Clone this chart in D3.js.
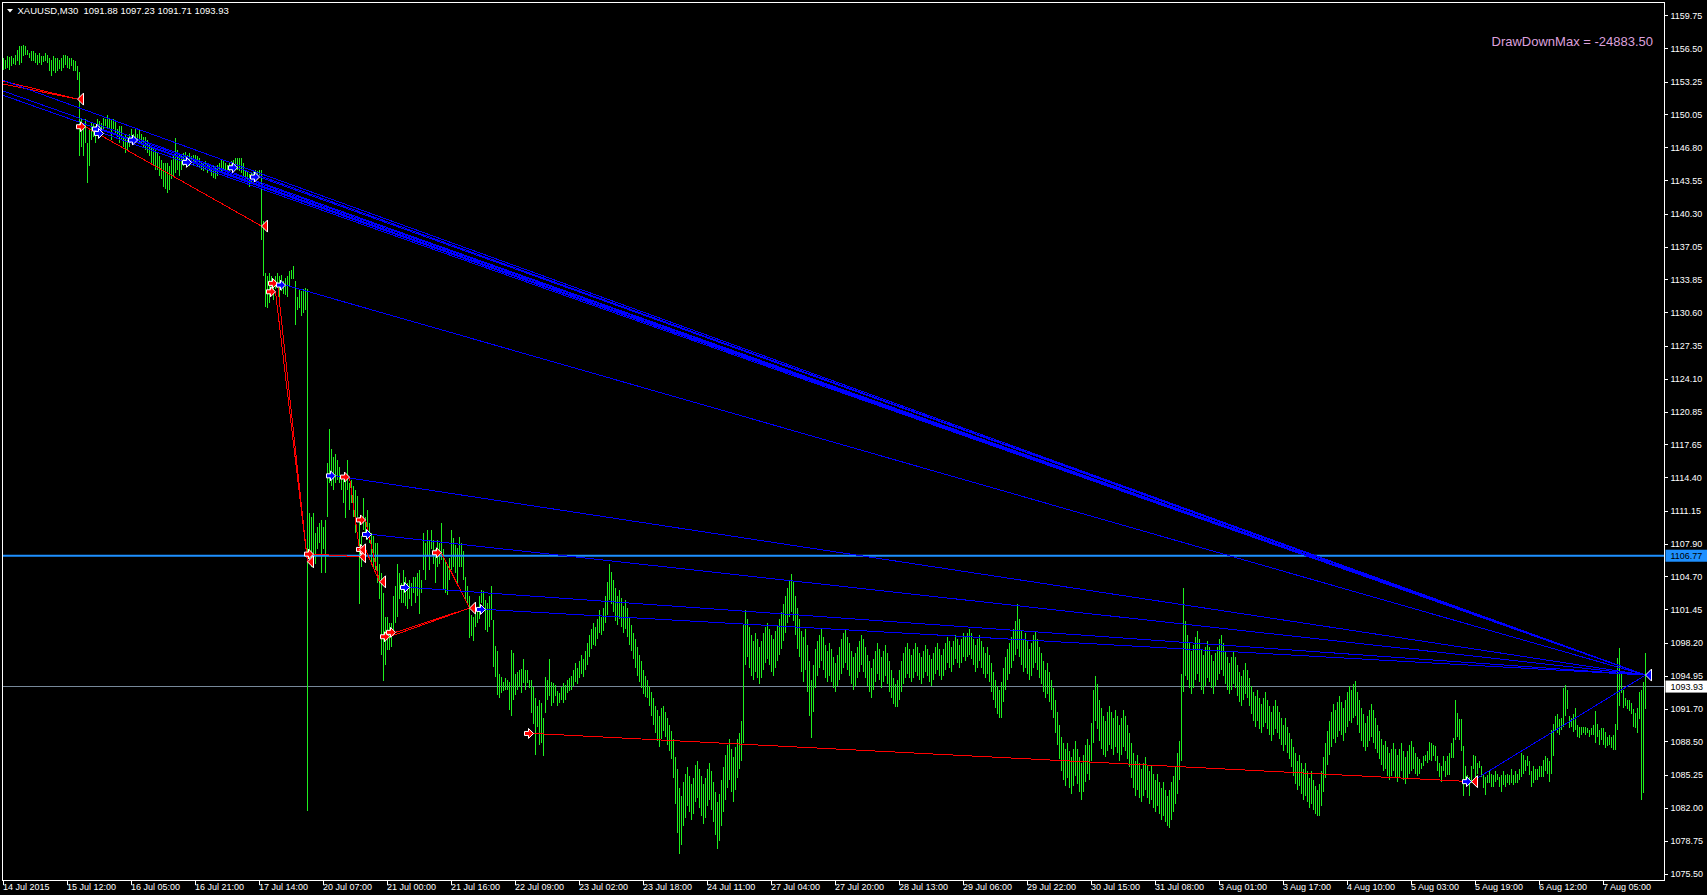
<!DOCTYPE html>
<html><head><meta charset="utf-8">
<script src="https://cdn.jsdelivr.net/npm/d3@7"></script>
<style>html,body{margin:0;padding:0;background:#000;overflow:hidden}svg{display:block}</style>
</head><body><svg id="c" width="1707" height="895"></svg>
<script>
const chartTitle = "XAUUSD,M30  1091.88 1097.23 1091.71 1093.93";
const drawDownText = "DrawDownMax = -24883.50";
const timeLabels = ["14 Jul 2015","15 Jul 12:00","16 Jul 05:00","16 Jul 21:00","17 Jul 14:00","20 Jul 07:00","21 Jul 00:00","21 Jul 16:00","22 Jul 09:00","23 Jul 02:00","23 Jul 18:00","24 Jul 11:00","27 Jul 04:00","27 Jul 20:00","28 Jul 13:00","29 Jul 06:00","29 Jul 22:00","30 Jul 15:00","31 Jul 08:00","3 Aug 01:00","3 Aug 17:00","4 Aug 10:00","5 Aug 03:00","5 Aug 19:00","6 Aug 12:00","7 Aug 05:00"];
const barsPerLabel = 32;
const priceTicks = [1159.75,1156.50,1153.25,1150.05,1146.80,1143.55,1140.30,1137.05,1133.85,1130.60,1127.35,1124.10,1120.85,1117.65,1114.40,1111.15,1107.90,1104.70,1101.45,1098.20,1094.95,1091.70,1088.50,1085.25,1082.00,1078.75,1075.50];
const hLinePrice = 1106.77;
const bidPrice = 1093.93;

const barHigh = [
1155.6,1155.4,1155.8,1155.7,1155.8,1155.6,1155.9,1156.4,1156.8,1156.8,
1156.9,1156.8,1156.4,1156.1,1156.3,1156.3,1156.1,1155.9,1156.1,1155.8,
1155.8,1156.1,1155.9,1155.6,1155.4,1155.8,1155.6,1155.6,1155.4,1155.6,
1155.9,1155.9,1155.8,1155.6,1155.6,1155.4,1155.3,1154.8,1154.2,1149.6,
1149.2,1149.6,1147.3,1148.6,1149.2,1149.2,1148.9,1149.6,1149.4,1149.2,
1149.7,1149.6,1150.0,1149.7,1149.6,1149.6,1149.4,1148.6,1148.9,1148.9,
1147.9,1148.2,1147.9,1148.2,1148.6,1148.2,1148.6,1148.2,1148.6,1148.2,
1147.9,1147.9,1147.6,1147.3,1146.9,1146.9,1146.6,1146.3,1146.0,1145.6,
1145.3,1145.3,1145.3,1145.0,1145.6,1146.0,1147.8,1146.6,1146.3,1146.0,
1146.3,1146.4,1146.1,1146.3,1146.0,1146.1,1146.1,1146.0,1145.8,1145.5,
1145.3,1145.5,1145.1,1145.0,1144.8,1145.1,1145.0,1145.1,1145.3,1145.6,
1145.5,1145.3,1145.1,1145.3,1145.5,1145.6,1145.8,1145.8,1145.8,1145.8,
1145.3,1144.6,1144.5,1144.2,1144.3,1144.6,1144.6,1144.5,1144.6,1144.6,
1139.6,1134.5,1134.2,1134.5,1134.2,1133.9,1134.2,1134.5,1134.2,1134.3,
1133.7,1134.0,1134.2,1134.7,1134.8,1135.2,1133.7,1132.2,1132.9,1132.7,
1132.9,1133.0,1132.9,1111.0,1110.6,1111.0,1109.0,1109.6,1110.0,1110.3,
1109.6,1110.3,1115.9,1119.2,1117.2,1116.5,1116.8,1116.2,1115.5,1114.6,
1114.2,1114.6,1116.2,1113.9,1114.2,1113.6,1113.2,1112.6,1110.6,1108.7,
1112.4,1110.6,1111.3,1110.0,1109.0,1108.7,1108.0,1108.0,1106.0,1105.1,
1103.1,1100.8,1100.8,1100.2,1100.2,1102.8,1103.8,1106.0,1105.1,1104.1,
1105.4,1104.7,1104.1,1104.4,1104.1,1104.7,1104.7,1105.1,1105.4,1104.4,
1109.0,1108.0,1109.3,1108.3,1109.3,1108.3,1107.4,1108.3,1108.0,1110.0,
1107.4,1106.4,1106.0,1106.5,1109.3,1108.5,1107.8,1107.5,1108.6,1108.0,
1107.2,1104.7,1103.8,1102.8,1101.0,1100.8,1101.8,1101.5,1102.8,1103.4,
1103.3,1102.4,1102.1,1102.8,1103.8,1100.5,1097.9,1097.4,1095.2,1094.9,
1094.4,1094.8,1094.6,1094.4,1097.5,1097.2,1095.2,1095.4,1095.6,1095.7,
1096.6,1095.6,1095.6,1094.6,1094.6,1093.9,1092.8,1092.0,1092.6,1092.3,
1090.8,1094.9,1094.6,1096.6,1094.4,1094.3,1094.1,1093.5,1093.3,1093.9,
1094.3,1094.1,1094.6,1094.8,1095.0,1095.6,1096.2,1095.8,1096.4,1097.0,
1096.6,1097.4,1098.2,1099.0,1099.6,1100.2,1099.8,1100.6,1101.4,1100.8,
1101.6,1102.8,1104.2,1106.0,1105.2,1104.4,1103.6,1102.8,1103.4,1102.6,
1101.8,1102.4,1101.6,1100.8,1100.0,1099.2,1098.6,1097.8,1097.0,1096.4,
1095.6,1095.0,1094.6,1094.0,1093.4,1092.8,1092.0,1091.6,1091.0,1091.8,
1092.0,1091.4,1090.8,1090.2,1089.6,1088.8,1087.0,1085.8,1084.0,1083.2,
1084.6,1085.4,1086.0,1085.2,1084.4,1085.0,1086.2,1086.6,1085.8,1085.2,
1084.4,1085.0,1085.8,1086.4,1085.6,1084.6,1083.6,1082.6,1083.4,1084.8,
1086.0,1087.2,1088.2,1088.8,1087.8,1087.0,1088.0,1088.8,1089.4,1090.6,
1100.0,1101.4,1100.6,1099.8,1099.0,1098.4,1099.2,1098.6,1097.8,1098.4,
1099.2,1099.8,1100.2,1099.6,1099.0,1098.6,1099.4,1100.0,1100.6,1101.2,
1102.0,1102.8,1103.6,1104.4,1105.0,1104.2,1102.8,1101.6,1100.6,1099.4,
1098.8,1099.6,1098.0,1096.4,1094.6,1096.0,1097.6,1098.4,1099.0,1099.6,
1098.8,1098.0,1097.4,1098.2,1097.6,1096.8,1096.2,1097.0,1097.8,1098.6,
1099.2,1099.6,1098.8,1098.2,1097.4,1096.8,1097.2,1097.8,1098.4,1099.0,
1098.6,1097.8,1097.0,1096.4,1095.8,1096.6,1097.4,1098.2,1097.6,1096.8,
1097.4,1098.0,1097.2,1096.4,1095.6,1094.8,1094.2,1094.6,1095.6,1096.4,
1097.2,1097.8,1098.2,1097.6,1097.0,1097.6,1098.2,1097.8,1097.2,1096.8,
1097.4,1098.0,1097.6,1097.0,1096.6,1097.2,1097.8,1098.2,1097.6,1097.0,
1097.6,1098.2,1098.8,1098.4,1097.8,1098.4,1099.0,1098.6,1098.0,1098.6,
1099.2,1098.8,1099.2,1099.6,1099.2,1098.6,1098.0,1098.6,1099.0,1098.4,
1097.8,1097.2,1097.8,1097.0,1096.2,1095.4,1094.6,1094.0,1093.6,1094.4,
1095.8,1096.8,1097.6,1098.2,1098.8,1099.6,1100.4,1102.0,1100.6,1099.4,
1098.6,1099.2,1098.4,1097.6,1098.2,1099.0,1099.4,1098.6,1097.8,1097.2,
1096.4,1095.6,1096.2,1095.4,1094.6,1093.8,1092.6,1091.4,1090.2,1089.0,
1088.4,1087.8,1088.4,1087.6,1087.0,1087.8,1088.6,1087.8,1087.0,1086.4,
1087.2,1088.2,1088.8,1088.2,1090.4,1093.6,1095.0,1094.2,1092.6,1091.8,
1091.0,1090.6,1091.4,1092.0,1091.4,1090.8,1091.6,1091.0,1090.2,1090.8,
1091.6,1091.0,1090.2,1089.4,1088.4,1087.4,1086.6,1087.2,1086.4,1085.8,
1086.4,1087.0,1086.2,1085.6,1086.2,1085.4,1084.8,1085.4,1084.6,1084.0,
1084.6,1083.8,1083.2,1083.8,1084.6,1085.2,1086.0,1087.4,1088.6,1095.2,
1103.6,1100.4,1099.0,1098.2,1097.4,1098.0,1098.8,1099.4,1098.6,1097.6,
1097.0,1097.8,1098.4,1097.8,1097.0,1096.4,1097.2,1097.8,1098.6,1099.0,
1098.2,1097.4,1096.8,1096.2,1096.8,1097.4,1096.8,1096.0,1095.4,1095.0,
1095.6,1096.2,1095.6,1094.8,1094.0,1093.4,1093.0,1093.6,1092.8,1092.2,
1092.8,1093.4,1092.6,1092.0,1091.4,1092.0,1092.6,1092.0,1091.4,1090.8,
1090.2,1090.8,1090.0,1089.4,1088.8,1088.0,1087.4,1086.6,1087.2,1086.4,
1085.8,1086.4,1085.6,1085.0,1085.6,1084.8,1084.2,1083.8,1084.4,1085.6,
1087.0,1088.4,1089.6,1090.6,1091.4,1092.2,1091.6,1092.4,1093.0,1092.4,
1091.8,1092.6,1093.4,1094.0,1093.6,1094.2,1094.5,1093.4,1092.6,1091.8,
1091.2,1090.4,1091.0,1091.6,1092.2,1091.6,1090.8,1090.2,1089.6,1088.8,
1088.2,1088.6,1088.0,1087.4,1087.8,1088.4,1087.8,1087.2,1087.8,1088.4,
1087.6,1087.0,1087.6,1088.2,1088.6,1088.0,1087.4,1087.0,1086.8,1086.4,
1087.1,1087.2,1087.6,1088.5,1088.4,1088.2,1088.1,1087.1,1086.4,1086.1,
1087.1,1086.6,1087.1,1087.4,1088.4,1088.9,1092.6,1091.3,1090.7,1090.7,
1088.1,1086.1,1085.3,1085.1,1086.1,1087.2,1087.1,1086.4,1086.6,1086.1,
1085.4,1085.1,1085.3,1085.6,1085.4,1085.3,1085.6,1085.4,1085.1,1085.3,
1085.6,1085.3,1085.4,1085.3,1085.8,1085.3,1085.6,1085.4,1085.8,1087.4,
1087.2,1086.7,1087.1,1086.6,1085.6,1086.1,1085.8,1085.8,1086.1,1086.1,
1086.7,1087.1,1086.9,1086.6,1089.7,1090.3,1091.0,1091.2,1090.7,1090.8,
1093.8,1094.1,1093.6,1091.0,1090.8,1091.2,1091.8,1090.2,1090.0,1090.0,
1090.0,1090.0,1089.9,1089.7,1089.9,1090.2,1091.5,1090.3,1089.7,1089.9,
1089.9,1089.5,1089.0,1089.2,1089.0,1089.2,1090.3,1096.7,1097.7,1095.3,
1093.6,1092.8,1092.6,1092.6,1092.3,1091.7,1091.3,1091.8,1093.4,1093.6,
1094.4,1097.23];

const barLow = [
1154.4,1154.5,1154.6,1154.4,1154.8,1155.0,1154.9,1155.3,1154.9,1155.1,
1155.8,1155.9,1155.9,1155.6,1155.3,1155.3,1155.1,1154.9,1155.1,1154.9,
1155.2,1155.3,1155.1,1154.3,1153.8,1154.3,1154.1,1154.3,1154.5,1154.3,
1154.6,1154.9,1154.6,1154.5,1154.8,1154.3,1154.3,1153.5,1146.0,1146.9,
1146.0,1147.3,1143.3,1145.0,1147.6,1147.9,1147.3,1148.6,1148.2,1148.6,
1148.6,1148.9,1148.7,1148.6,1147.6,1148.6,1148.2,1147.9,1147.3,1147.6,
1146.9,1146.3,1146.6,1146.9,1147.6,1147.3,1147.6,1147.3,1147.3,1147.1,
1146.9,1146.6,1146.3,1146.0,1145.3,1145.0,1144.6,1144.6,1144.0,1143.7,
1143.0,1142.8,1142.4,1142.7,1143.7,1144.0,1144.3,1144.6,1144.0,1144.6,
1145.0,1145.3,1145.1,1145.0,1145.3,1145.0,1145.3,1145.0,1144.8,1144.6,
1144.5,1144.6,1144.3,1144.6,1144.0,1143.8,1143.7,1144.0,1144.3,1144.5,
1144.6,1144.3,1144.2,1144.5,1144.6,1144.6,1145.0,1144.6,1144.5,1144.3,
1144.0,1143.7,1143.3,1143.0,1143.3,1143.8,1144.0,1144.0,1144.0,1137.8,
1134.2,1131.2,1131.1,1131.6,1132.5,1131.9,1132.9,1133.2,1132.2,1132.7,
1132.5,1132.4,1132.2,1133.2,1133.9,1133.9,1129.4,1130.9,1131.1,1130.3,
1130.6,1130.9,1081.7,1106.0,1105.7,1105.7,1106.0,1107.4,1108.0,1105.1,
1107.4,1105.1,1110.6,1113.9,1113.6,1113.2,1113.9,1114.2,1113.9,1113.2,
1111.9,1110.5,1113.2,1111.3,1111.9,1110.6,1109.0,1110.6,1102.0,1105.7,
1109.3,1108.7,1108.3,1108.0,1106.0,1105.7,1105.4,1104.1,1102.5,1097.0,
1094.5,1096.0,1097.5,1097.5,1097.8,1099.5,1100.2,1100.8,1102.5,1102.1,
1102.1,1101.8,1101.5,1102.5,1101.8,1103.1,1102.1,1102.8,1101.1,1103.1,
1105.4,1104.4,1106.7,1105.4,1107.4,1106.0,1104.1,1105.7,1106.0,1106.4,
1103.4,1103.1,1102.9,1104.4,1105.4,1105.7,1105.1,1104.1,1105.7,1105.7,
1104.4,1102.4,1102.0,1098.7,1098.9,1098.4,1099.8,1100.2,1100.6,1102.1,
1101.8,1099.5,1099.3,1099.8,1100.5,1095.9,1094.9,1093.1,1092.8,1093.3,
1093.5,1093.6,1093.6,1091.6,1091.0,1092.6,1093.1,1093.6,1093.9,1093.3,
1094.3,1093.6,1094.3,1093.8,1091.3,1090.3,1087.2,1090.0,1088.2,1088.4,
1087.1,1091.3,1092.6,1093.0,1092.0,1092.3,1093.0,1092.0,1092.3,1092.6,
1092.3,1092.6,1093.3,1093.5,1093.6,1094.0,1094.4,1094.2,1094.8,1095.2,
1094.9,1095.6,1096.0,1096.8,1097.6,1098.0,1097.9,1098.6,1099.2,1099.0,
1099.4,1100.2,1101.0,1102.4,1102.0,1101.2,1100.4,1100.0,1100.6,1099.8,
1099.2,1099.6,1098.8,1098.0,1097.4,1096.6,1095.8,1095.0,1094.4,1093.8,
1093.2,1092.9,1092.8,1092.0,1091.0,1090.2,1089.4,1088.6,1088.0,1088.8,
1089.6,1089.0,1088.2,1087.6,1086.8,1085.0,1082.4,1079.6,1077.5,1078.4,
1080.2,1081.0,1082.2,1081.6,1080.8,1081.4,1082.6,1083.0,1082.0,1081.2,
1080.4,1081.0,1082.2,1082.8,1081.8,1080.6,1079.4,1078.0,1078.8,1080.2,
1081.6,1082.8,1084.0,1084.8,1083.6,1082.6,1083.8,1085.0,1085.8,1086.6,
1088.4,1096.0,1096.8,1095.8,1095.0,1094.6,1095.4,1094.8,1094.2,1094.8,
1095.6,1096.2,1096.6,1096.0,1095.4,1095.0,1095.8,1096.4,1097.0,1097.6,
1098.4,1099.2,1100.2,1100.8,1101.2,1100.4,1099.0,1097.6,1096.8,1095.4,
1094.4,1095.6,1093.4,1091.0,1088.9,1091.4,1093.8,1095.0,1095.8,1096.4,
1095.6,1094.8,1094.4,1095.0,1094.4,1093.8,1093.4,1094.0,1094.6,1095.2,
1095.8,1096.2,1095.6,1095.0,1094.2,1093.6,1094.0,1094.8,1095.4,1096.0,
1095.4,1094.8,1094.0,1093.4,1092.8,1093.6,1094.4,1095.2,1094.6,1093.8,
1094.4,1095.0,1094.2,1093.4,1092.8,1092.2,1091.9,1091.9,1092.6,1093.4,
1094.2,1094.8,1095.2,1094.8,1094.4,1094.8,1095.4,1095.0,1094.6,1094.2,
1094.8,1095.4,1095.0,1094.4,1094.0,1094.6,1095.2,1095.6,1095.0,1094.6,
1095.0,1095.6,1096.2,1095.8,1095.4,1096.0,1096.6,1096.2,1095.8,1096.2,
1096.8,1096.4,1096.8,1097.0,1096.6,1096.0,1095.4,1095.8,1096.4,1095.8,
1095.2,1094.8,1095.2,1094.4,1093.4,1092.6,1091.8,1091.2,1090.8,1090.8,
1092.4,1093.6,1094.6,1095.2,1095.8,1096.4,1097.0,1097.6,1096.8,1096.0,
1095.4,1095.8,1095.2,1094.6,1095.0,1095.8,1096.2,1095.6,1094.8,1094.2,
1093.4,1092.8,1093.2,1092.4,1091.6,1090.8,1089.4,1088.2,1086.8,1085.6,
1084.8,1084.2,1085.0,1084.0,1083.4,1084.2,1085.2,1084.4,1083.6,1082.8,
1083.6,1084.6,1085.4,1084.8,1086.6,1088.4,1090.6,1089.8,1088.6,1087.8,
1087.2,1087.0,1087.6,1088.2,1087.8,1087.2,1088.0,1087.4,1086.6,1087.2,
1088.0,1087.6,1086.8,1086.0,1085.0,1084.0,1083.2,1083.8,1083.0,1082.6,
1083.2,1083.8,1083.0,1082.4,1082.8,1082.0,1081.6,1082.2,1081.4,1080.8,
1081.2,1080.6,1080.2,1080.1,1080.8,1081.6,1082.4,1083.4,1084.8,1086.6,
1093.4,1095.0,1094.6,1093.8,1093.2,1093.8,1094.6,1095.2,1094.4,1093.6,
1093.2,1094.0,1094.8,1094.4,1093.8,1093.2,1094.0,1094.6,1095.2,1095.6,
1095.0,1094.2,1093.6,1093.2,1093.6,1094.2,1093.8,1093.0,1092.4,1092.0,
1092.6,1093.2,1092.8,1092.0,1091.2,1090.6,1090.0,1090.6,1089.8,1089.4,
1090.0,1090.4,1089.8,1089.2,1088.6,1089.2,1089.8,1089.4,1088.8,1088.2,
1087.6,1088.2,1087.4,1086.8,1086.0,1085.2,1084.4,1083.8,1084.2,1083.4,
1082.8,1083.2,1082.6,1082.0,1082.4,1081.8,1081.4,1081.2,1081.2,1082.2,
1083.6,1085.0,1086.2,1087.2,1088.0,1088.8,1088.4,1089.0,1089.6,1089.2,
1088.6,1089.4,1090.0,1090.6,1090.4,1090.8,1091.0,1090.2,1089.4,1088.6,
1088.0,1087.6,1088.0,1088.6,1089.0,1088.4,1087.8,1087.4,1086.8,1086.2,
1085.6,1085.8,1085.2,1084.8,1085.2,1085.6,1085.0,1084.6,1085.0,1085.6,
1084.8,1084.4,1085.0,1085.4,1085.6,1085.8,1085.4,1085.2,1085.4,1085.8,
1086.1,1086.6,1086.4,1086.7,1086.6,1087.1,1086.6,1085.6,1085.1,1084.6,
1085.6,1085.1,1085.3,1085.3,1086.9,1086.9,1088.7,1089.0,1088.7,1087.6,
1083.2,1084.5,1084.3,1083.2,1084.5,1085.8,1085.1,1085.4,1085.9,1085.1,
1084.0,1083.3,1084.5,1084.5,1084.1,1084.1,1084.6,1084.8,1084.1,1083.6,
1084.3,1084.1,1084.5,1084.3,1084.5,1084.3,1084.5,1084.5,1084.8,1085.1,
1085.4,1085.6,1086.1,1085.3,1084.1,1084.5,1084.8,1084.8,1085.1,1085.1,
1085.1,1085.6,1085.4,1084.6,1085.4,1087.1,1089.7,1089.4,1089.2,1089.7,
1090.0,1091.0,1091.7,1089.9,1090.0,1089.5,1089.7,1089.0,1088.9,1089.2,
1089.4,1089.2,1089.4,1089.0,1089.2,1089.2,1088.4,1089.0,1088.2,1088.7,
1088.2,1087.9,1088.1,1088.2,1087.9,1087.7,1087.7,1089.7,1092.0,1093.3,
1091.8,1092.0,1091.7,1091.5,1091.2,1090.0,1089.9,1089.4,1090.7,1082.8,
1083.5,1091.71];

// trades: [openBar, openPrice, closeBar, closePrice]
const sellTrades = [
[-20,1154.29,37,1151.58],[-20,1153.85,37,1151.58],[41,1148.87,129,1139.12],
[137,1133.50,152,1106.17],[136,1132.67,152,1106.17],[155,1106.93,178,1106.67],
[173,1114.49,178,1107.35],[181,1110.28,188,1104.21],[181,1107.39,188,1104.21],
[193,1098.82,233,1101.63],[196,1099.25,233,1101.63],[219,1107.06,233,1101.63],
[265,1089.33,734,1084.60]];
const buyTrades = [
[-20,1154.83,821,1095.06],[-20,1153.76,821,1095.06],[-20,1153.33,821,1095.06],
[49,1148.64,821,1095.06],[50,1148.21,821,1095.06],[67,1147.56,821,1095.06],
[94,1145.37,821,1095.06],[117,1144.84,821,1095.06],[128,1143.93,821,1095.06],
[141,1133.33,821,1095.06],[166,1114.61,821,1095.06],[184,1108.86,821,1095.06],
[203,1103.66,821,1095.06],[241,1101.50,821,1095.06],[734,1084.60,821,1095.06]];

const nBars = barHigh.length;
const svg = d3.select('#c');
const FONT = '"Liberation Sans", Arial, sans-serif';
const plotL = 2.5, plotT = 2.5, plotR = 1664.5, plotB = 880.5;

const x = d3.scaleLinear().domain([0, 821]).range([3.5, 1645.5]);
const y = d3.scaleLinear().domain([1074.90, 1161.06]).range([plotB, plotT]);

svg.append('rect').attr('width',1707).attr('height',895).attr('fill','#000');
svg.append('defs').append('clipPath').attr('id','clip')
  .append('rect').attr('x',plotL+0.5).attr('y',plotT+0.5).attr('width',plotR-plotL-1).attr('height',plotB-plotT-1);

const plot = svg.append('g').attr('clip-path','url(#clip)');

// bid line
plot.append('line').attr('x1',plotL).attr('x2',plotR)
  .attr('y1',Math.floor(y(bidPrice))+0.5).attr('y2',Math.floor(y(bidPrice))+0.5)
  .attr('stroke','#778899').attr('stroke-width',1).attr('shape-rendering','crispEdges');

// bars
plot.append('g').selectAll('line').data(d3.range(nBars)).join('line')
  .attr('x1',i=>x(i)).attr('x2',i=>x(i))
  .attr('y1',i=>y(barHigh[i])).attr('y2',i=>Math.max(y(barLow[i]), y(barHigh[i])+1))
  .attr('stroke','#1ef01e').attr('stroke-width',1).attr('shape-rendering','crispEdges');

// horizontal line object
plot.append('line').attr('x1',plotL).attr('x2',plotR)
  .attr('y1',y(hLinePrice)).attr('y2',y(hLinePrice))
  .attr('stroke','#1e90ff').attr('stroke-width',2);

// trade lines
function tradeLines(data, color){
  plot.append('g').selectAll('line').data(data).join('line')
    .attr('x1',d=>x(d[0])).attr('y1',d=>y(d[1]))
    .attr('x2',d=>x(d[2])).attr('y2',d=>y(d[3]))
    .attr('stroke',color).attr('stroke-width',1).attr('shape-rendering','crispEdges');
}
tradeLines(sellTrades,'#ff0000');
tradeLines(buyTrades,'#0000ff');

// markers
const openArrow = 'M0,0 L-5,-5 L-5,-2 L-9,-2 L-9,2 L-5,2 L-5,5 Z';
const closeTri = 'M0,0 L6,-6 L6,6 Z';
function markers(data, color){
  plot.append('g').selectAll('path').data(data.filter(d=>d[0]>=0)).join('path')
    .attr('d',openArrow).attr('transform',d=>`translate(${x(d[0])},${y(d[1])})`)
    .attr('fill',color).attr('stroke','#fff').attr('stroke-width',1);
  const closes = [];
  data.forEach(d=>{ if(!closes.some(c=>c[0]===d[2]&&c[1]===d[3])) closes.push([d[2],d[3]]); });
  plot.append('g').selectAll('path').data(closes).join('path')
    .attr('d',closeTri).attr('transform',d=>`translate(${x(d[0])},${y(d[1])})`)
    .attr('fill',color).attr('stroke','#fff').attr('stroke-width',1);
}
markers(sellTrades,'#ff0000');
markers(buyTrades,'#0000ff');

// frame
svg.append('rect').attr('x',plotL).attr('y',plotT).attr('width',plotR-plotL).attr('height',plotB-plotT)
  .attr('fill','none').attr('stroke','#fff').attr('stroke-width',1);

// price axis
const yAxis = d3.axisRight(y).tickValues(priceTicks).tickSize(3).tickPadding(3).offset(0)
  .tickFormat(d=>d.toFixed(2));
const gy = svg.append('g').attr('transform',`translate(${plotR},0)`).call(yAxis)
  .attr('font-family',FONT).attr('font-size',9);
gy.select('.domain').remove();
gy.selectAll('line').attr('stroke','#fff').attr('shape-rendering','crispEdges');
gy.selectAll('text').attr('fill','#fff');

// time axis
const xAxis = d3.axisBottom(x).tickValues(timeLabels.map((d,i)=>i*barsPerLabel)).tickSize(4).offset(0)
  .tickFormat((d,i)=>timeLabels[i]);
const gx = svg.append('g').attr('transform',`translate(0,${plotB})`).call(xAxis)
  .attr('font-family',FONT).attr('font-size',9);
gx.select('.domain').remove();
gx.selectAll('line').attr('stroke','#fff').attr('shape-rendering','crispEdges');
gx.selectAll('text').attr('fill','#fff').attr('text-anchor','start').attr('dx',-0.5)
  .attr('y',9.5).attr('dy',0);

// price labels on axis
function priceBox(p, bg, fg){
  const yy = y(p);
  svg.append('rect').attr('x',plotR+1).attr('y',yy-6).attr('width',1707-plotR-1).attr('height',12).attr('fill',bg);
  svg.append('text').attr('x',plotR+6).attr('y',yy+3.5).attr('fill',fg)
    .attr('font-family',FONT).attr('font-size',9).text(p.toFixed(2));
}
priceBox(hLinePrice,'#1e90ff','#000');
priceBox(bidPrice,'#fff','#000');

// title
svg.append('path').attr('d','M7,9 L13,9 L10,12.5 Z').attr('fill','#fff');
svg.append('text').attr('x',17.5).attr('y',14).attr('fill','#fff').attr('font-family',FONT)
  .attr('font-size',9.5).attr('xml:space','preserve').style('white-space','pre').text(chartTitle);

// drawdown label
svg.append('text').attr('x',1653).attr('y',46).attr('text-anchor','end').attr('fill','#dda0dd')
  .attr('font-family',FONT).attr('font-size',13).text(drawDownText);
</script></body></html>
